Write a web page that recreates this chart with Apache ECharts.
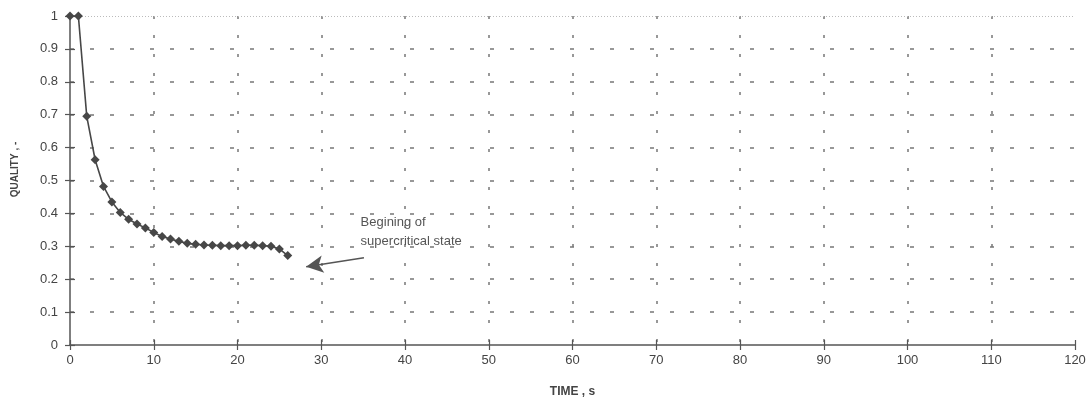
<!DOCTYPE html>
<html>
<head>
<meta charset="utf-8">
<script src="https://cdn.jsdelivr.net/npm/echarts@6/dist/echarts.min.js"></script>
<style>html,body{margin:0;padding:0;background:#fff}#c{width:1091px;height:403px}</style>
</head>
<body>
<div id="c"></div>
<script>
// Data
const timeS = [0, 1, 2, 3, 4, 5, 6, 7, 8, 9, 10, 11, 12, 13, 14, 15, 16, 17, 18, 19, 20, 21, 22, 23, 24, 25, 26];
const quality = [1.0, 1.0, 0.695, 0.563, 0.482, 0.435, 0.403, 0.382, 0.368, 0.356, 0.342, 0.330, 0.322, 0.315, 0.309, 0.306, 0.304, 0.303, 0.302, 0.302, 0.302, 0.303, 0.303, 0.302, 0.300, 0.292, 0.272];
const xTicks = [0, 10, 20, 30, 40, 50, 60, 70, 80, 90, 100, 110, 120];
const yTicks = [0, 0.1, 0.2, 0.3, 0.4, 0.5, 0.6, 0.7, 0.8, 0.9, 1];
const annotationText = ['Begining of', 'supercritical state'];
const annotationAnchor = [34.7, 0.345];
const arrowFrom = [35.1, 0.265];
const arrowTo = [28.2, 0.238];

const pts = timeS.map((t, i) => [t, quality[i]]);
const fmtY = v => (Math.round(v * 10) / 10).toString();
const labelStyle = { color: '#444', fontFamily: 'Liberation Sans, Arial, sans-serif', fontSize: 13 };

const chart = echarts.init(document.getElementById('c'), null, { renderer: 'canvas' });
chart.setOption({
  backgroundColor: '#fff',
  animation: false,
  grid: { left: 70, right: 16, top: 16, bottom: 56, containLabel: false },
  xAxis: [{
    type: 'value', min: xTicks[0], max: xTicks[xTicks.length - 1], interval: 10,
    name: 'TIME , s', nameLocation: 'middle', nameGap: 41,
    nameTextStyle: { color: '#444', fontFamily: 'Liberation Sans, Arial, sans-serif', fontSize: 12, fontWeight: 'bold', padding: [0, 0, 0, 0] },
    axisLine: { show: true, onZero: false, lineStyle: { color: '#555', width: 1.5 } },
    axisTick: { show: true, length: 5, lineStyle: { color: '#555', width: 1.2 } },
    axisLabel: Object.assign({ margin: 9 }, labelStyle),
    splitLine: { show: true, showMinLine: false, showMaxLine: false, lineStyle: { color: '#777', width: 1.5, type: [3, 16] } }
  }, {
    type: 'value', min: xTicks[0], max: xTicks[xTicks.length - 1], interval: 10, position: 'bottom',
    axisLine: { show: false }, axisTick: { show: true, inside: true, length: 5, lineStyle: { color: '#555', width: 1.2 } },
    axisLabel: { show: false }, splitLine: { show: false }
  }],
  yAxis: [{
    type: 'value', min: yTicks[0], max: yTicks[yTicks.length - 1], interval: 0.1,
    name: 'QUALITY , -', nameLocation: 'middle', nameGap: 50,
    nameTextStyle: { color: '#444', fontFamily: 'Liberation Sans, Arial, sans-serif', fontSize: 10, fontWeight: 'bold', padding: [0, 0, 0, 22] },
    axisLine: { show: true, onZero: false, lineStyle: { color: '#555', width: 1.5 } },
    axisTick: { show: true, length: 5, lineStyle: { color: '#555', width: 1.2 } },
    axisLabel: Object.assign({ margin: 12, formatter: fmtY }, labelStyle),
    splitLine: { show: true, showMinLine: false, showMaxLine: false, lineStyle: { color: '#777', width: 1.5, type: [4, 16] } }
  }, {
    type: 'value', min: yTicks[0], max: yTicks[yTicks.length - 1], interval: 0.1, position: 'left',
    axisLine: { show: false }, axisTick: { show: true, inside: true, length: 5, lineStyle: { color: '#555', width: 1.2 } },
    axisLabel: { show: false }, splitLine: { show: false }
  }],
  series: [{
    type: 'line', data: pts, xAxisIndex: 0, yAxisIndex: 0,
    symbol: 'diamond', symbolSize: 9, showSymbol: true,
    lineStyle: { color: '#474747', width: 1.6 },
    itemStyle: { color: '#474747' },
    z: 5,
    markLine: {
      silent: true, symbol: ['none', 'none'],
      label: { show: false },
      lineStyle: { color: '#bbb', width: 1, type: [1, 2] },
      data: [{ yAxis: yTicks[yTicks.length - 1] }]
    }
  }, {
    type: 'line', data: [], xAxisIndex: 0, yAxisIndex: 0,
    markLine: {
      silent: true, symbol: ['none', 'arrow'], symbolSize: [13, 17],
      label: { show: false },
      lineStyle: { color: '#555', width: 1.6, type: 'solid' },
      data: [[{ coord: arrowFrom }, { coord: arrowTo }]]
    },
    markPoint: {
      silent: true, symbol: 'circle', symbolSize: 0,
      data: [{ coord: annotationAnchor }],
      label: {
        show: true, position: 'right', distance: 0,
        formatter: annotationText.join('\n'),
        color: '#555', fontFamily: 'Liberation Sans, Arial, sans-serif', fontSize: 13, lineHeight: 19, align: 'left'
      }
    }
  }]
});
</script>
</body>
</html>
